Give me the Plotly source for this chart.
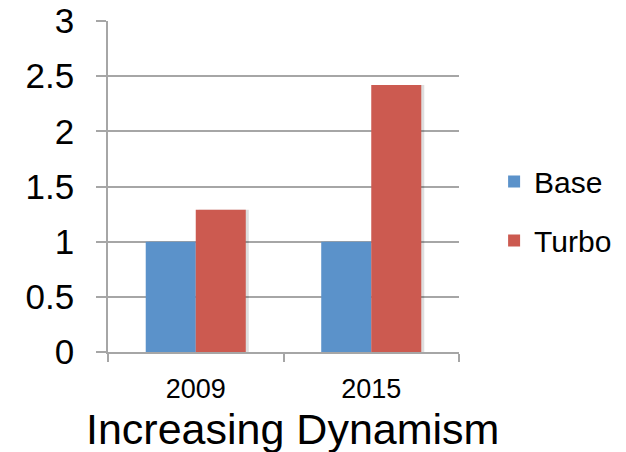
import plotly.graph_objects as go

# Chart data
years = ["2009", "2015"]
base_values = [1.0, 1.0]
turbo_values = [1.29, 2.42]
y_ticks = [0, 0.5, 1, 1.5, 2, 2.5, 3]
y_tick_labels = ["0", "0.5", "1", "1.5", "2", "2.5", "3"]
axis_title = "Increasing Dynamism"

FONT = "Liberation Sans, Arial, sans-serif"
GRID = "#A6A6A6"

fig = go.Figure()

# soft drop shadows behind the bars
for i, vals in enumerate((base_values, turbo_values)):
    fig.add_trace(go.Bar(
        x=years, y=vals, showlegend=False, hoverinfo="skip",
        marker=dict(color="rgba(0,0,0,0.13)", line=dict(width=0)),
    ))

fig.add_trace(go.Bar(
    x=years, y=base_values, name="Base", legendgroup="base",
    marker=dict(color="#5B92CA", line=dict(width=0)),
))
fig.add_trace(go.Bar(
    x=years, y=turbo_values, name="Turbo", legendgroup="turbo",
    marker=dict(color="#CC5A50", line=dict(width=0)),
))

# shadows sit a few pixels right of each bar
px_per_cat = 351 / 2.0
shift = 3 / px_per_cat
bw = 0.285
fig.data[0].update(offset=-bw + shift, width=bw)
fig.data[1].update(offset=0 + shift, width=bw)
fig.data[2].update(offset=-bw, width=bw)
fig.data[3].update(offset=0, width=bw)

fig.update_layout(
    width=626, height=452,
    margin=dict(l=108, r=167, t=21, b=100, autoexpand=False),
    paper_bgcolor="white", plot_bgcolor="white",
    barmode="overlay",
    font=dict(family=FONT, color="black"),
    showlegend=True,
    legend=dict(
        x=1.1, xanchor="left", y=0.426, yanchor="middle",
        font=dict(size=30, family=FONT),
        traceorder="grouped", tracegroupgap=17,
        bgcolor="rgba(0,0,0,0)",
    ),
    xaxis=dict(
        type="category", range=[-0.5, 1.5],
        showline=True, linecolor=GRID, linewidth=1.5,
        ticks="outside", tickson="boundaries", ticklen=8,
        tickcolor=GRID, tickwidth=1.5,
        tickfont=dict(size=27, family=FONT),
        ticklabelstandoff=12,
        showgrid=False, zeroline=False,
    ),
    yaxis=dict(
        range=[0, 3], tickvals=y_ticks, ticktext=y_tick_labels,
        showline=True, linecolor=GRID, linewidth=1.5,
        ticks="outside", ticklen=10, tickcolor=GRID, tickwidth=1.5,
        showgrid=True, gridcolor=GRID, gridwidth=1.5,
        zeroline=False,
        tickfont=dict(size=35, family=FONT),
        ticklabelstandoff=15,
    ),
    annotations=[dict(
        text=axis_title, xref="paper", yref="paper",
        x=0.526, y=-0.154, xanchor="center", yanchor="top",
        showarrow=False, font=dict(size=43, family=FONT),
    )],
)

fig.write_html("out.html")
